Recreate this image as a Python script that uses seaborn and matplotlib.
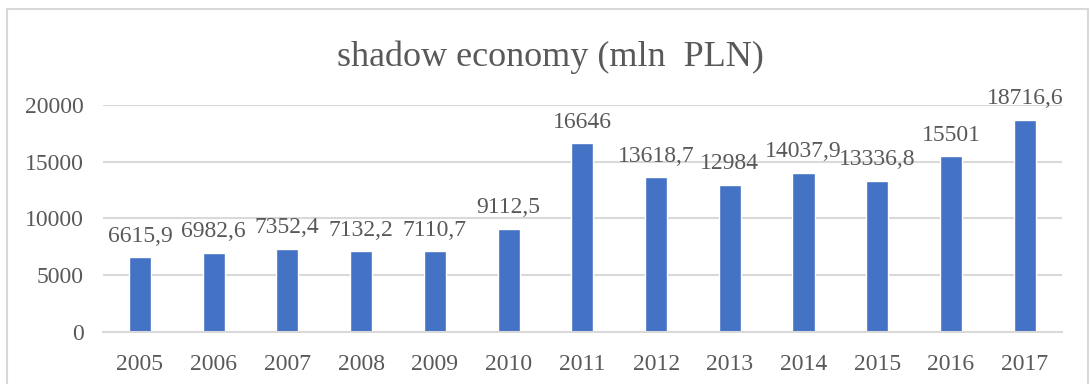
import matplotlib
matplotlib.use("Agg")
import matplotlib.pyplot as plt
import matplotlib.patches as mpatches
import seaborn as sns
import pandas as pd

years = ["2005", "2006", "2007", "2008", "2009", "2010", "2011",
         "2012", "2013", "2014", "2015", "2016", "2017"]
values = [6615.9, 6982.6, 7352.4, 7132.2, 7110.7, 9112.5, 16646,
          13618.7, 12984, 14037.9, 13336.8, 15501, 18716.6]
value_labels = ["6615,9", "6982,6", "7352,4", "7132,2", "7110,7", "9112,5", "16646",
                "13618,7", "12984", "14037,9", "13336,8", "15501", "18716,6"]
y_ticks = [0, 5000, 10000, 15000, 20000]
title = "shadow economy (mln  PLN)"

sns.set_theme(style="white")
plt.rcParams["font.family"] = ["Liberation Serif", "DejaVu Serif"]

text_color = "#595959"
grid_color = "#D9D9D9"
bar_color = "#4472C4"

df = pd.DataFrame({"year": years, "value": values})

fig = plt.figure(figsize=(10.9, 3.84), dpi=100)
ax = fig.add_axes([0.0945, 0.1354, 0.8795, 0.5912])

sns.barplot(data=df, x="year", y="value", color=bar_color, width=0.3,
            saturation=1, ax=ax)

ax.set_ylim(0, 20000)
ax.set_yticks(y_ticks)
ax.set_yticklabels([str(t) for t in y_ticks])
ax.set_xlim(-0.5, len(years) - 0.5)
ax.yaxis.grid(True, color=grid_color, linewidth=1.5)
ax.set_axisbelow(True)
for side in ["top", "right", "left"]:
    ax.spines[side].set_visible(False)
ax.spines["bottom"].set_color(grid_color)
ax.spines["bottom"].set_linewidth(1.5)
ax.tick_params(axis="x", length=0, pad=16, labelsize=17, labelcolor=text_color)
ax.tick_params(axis="y", length=0, pad=14, labelsize=17, labelcolor=text_color)
ax.set_xlabel("")
ax.set_ylabel("")

for i, (v, lab) in enumerate(zip(values, value_labels)):
    ax.annotate(lab, (i, v), xytext=(0, 15), textcoords="offset points",
                ha="center", va="center", fontsize=17, color=text_color,
                annotation_clip=False)

fig.text(0.505, 0.85, title, ha="center", va="center", fontsize=26,
         color=text_color)

# chart frame
frame = mpatches.Rectangle((7 / 1090, -0.05), 1081 / 1090, 1 - 9 / 384 + 0.05,
                           transform=fig.transFigure, fill=False,
                           edgecolor=grid_color, linewidth=1.5, clip_on=False)
fig.patches.append(frame)

fig.savefig("out.png", dpi=100, facecolor="white")
